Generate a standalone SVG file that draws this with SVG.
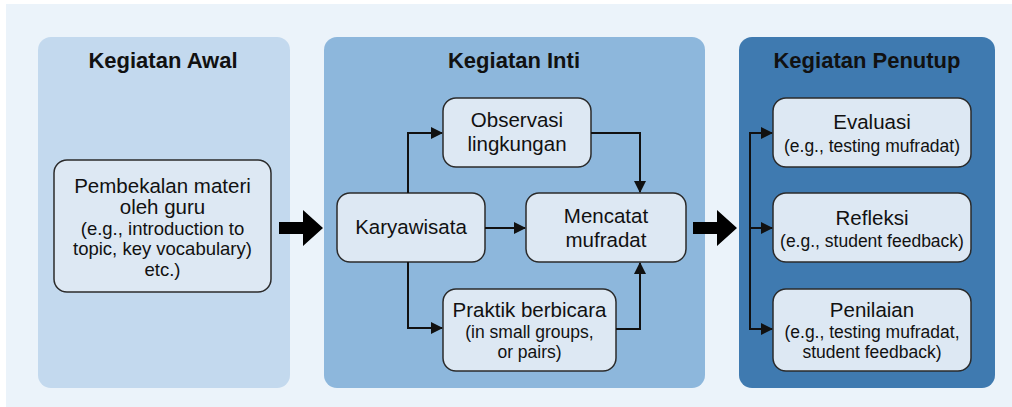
<svg xmlns="http://www.w3.org/2000/svg" width="1012" height="407" viewBox="0 0 1012 407">
<style>
.panel{stroke:none}
.node rect{fill:#dde8f3;stroke:#2b2b2b;stroke-width:1.5}
text{font-family:"Liberation Sans",Arial,sans-serif;fill:#111;text-anchor:middle}
.title{font-weight:bold;font-size:22px}
.main{font-size:20.5px}
.sub{font-size:17.5px}
.conn{fill:none;stroke:#111;stroke-width:2}
.big{fill:#000}
</style>
<defs>
<marker id="ah" markerWidth="12" markerHeight="12" refX="11" refY="6" orient="auto" markerUnits="userSpaceOnUse">
<path d="M0,0 L12,6 L0,12 z" fill="#111"/>
</marker>
</defs>
<rect x="0" y="0" width="1012" height="407" fill="#ffffff"/>
<rect x="6" y="4" width="1006" height="403" fill="#ebf3fa"/>
<g id="panel-awal">
<rect class="panel" x="38" y="37" width="252" height="351" rx="13" fill="#c3d9ee"/>
<text class="title" x="163" y="68">Kegiatan Awal</text>
</g>
<g id="panel-inti">
<rect class="panel" x="324" y="37" width="381" height="351" rx="13" fill="#8db7dc"/>
<text class="title" x="514" y="68">Kegiatan Inti</text>
</g>
<g id="panel-penutup">
<rect class="panel" x="739" y="37" width="256" height="351" rx="13" fill="#3f7ab0"/>
<text class="title" x="867" y="68">Kegiatan Penutup</text>
</g>
<g id="node-pembekalan" class="node">
<rect x="54" y="160" width="217" height="132" rx="13"/>
<text class="main" x="162.5" y="193">Pembekalan materi</text>
<text class="main" x="162.5" y="214">oleh guru</text>
<text class="sub" x="162.5" y="235" style="font-size:18.5px">(e.g., introduction to</text>
<text class="sub" x="162.5" y="255" style="font-size:18.5px">topic, key vocabulary)</text>
<text class="sub" x="162.5" y="276" style="font-size:18.5px">etc.)</text>
</g>
<g id="node-karyawisata" class="node">
<rect x="337" y="193" width="148" height="69" rx="13"/>
<text class="main" x="411" y="234">Karyawisata</text>
</g>
<g id="node-observasi" class="node">
<rect x="443" y="98" width="148" height="69" rx="13"/>
<text class="main" x="517" y="127">Observasi</text>
<text class="main" x="517" y="151">lingkungan</text>
</g>
<g id="node-mencatat" class="node">
<rect x="526" y="193" width="160" height="69" rx="13"/>
<text class="main" x="606" y="223">Mencatat</text>
<text class="main" x="606" y="247">mufradat</text>
</g>
<g id="node-praktik" class="node">
<rect x="443" y="289" width="173" height="82" rx="13"/>
<text class="main" x="529.5" y="317">Praktik berbicara</text>
<text class="sub" x="529.5" y="338">(in small groups,</text>
<text class="sub" x="529.5" y="358">or pairs)</text>
</g>
<g id="node-evaluasi" class="node">
<rect x="773" y="98" width="198" height="69" rx="13"/>
<text class="main" x="872" y="129">Evaluasi</text>
<text class="sub" x="872" y="152">(e.g., testing mufradat)</text>
</g>
<g id="node-refleksi" class="node">
<rect x="773" y="193" width="198" height="69" rx="13"/>
<text class="main" x="872" y="225">Refleksi</text>
<text class="sub" x="872" y="247">(e.g., student feedback)</text>
</g>
<g id="node-penilaian" class="node">
<rect x="773" y="289" width="198" height="82" rx="13"/>
<text class="main" x="872" y="317">Penilaian</text>
<text class="sub" x="872" y="338">(e.g., testing mufradat,</text>
<text class="sub" x="872" y="358">student feedback)</text>
</g>
<g id="connectors">
<polygon class="big" points="279,222 303,222 303,210 323,228 303,246 303,234 279,234"/>
<polygon class="big" points="693,222 717,222 717,210 737,228 717,246 717,234 693,234"/>
<path class="conn" d="M408,193 V133 H442" marker-end="url(#ah)"/>
<path class="conn" d="M408,262 V328 H442" marker-end="url(#ah)"/>
<path class="conn" d="M485,228 H525" marker-end="url(#ah)"/>
<path class="conn" d="M591,133 H640 V192" marker-end="url(#ah)"/>
<path class="conn" d="M616,329 H640 V263" marker-end="url(#ah)"/>
<path class="conn" d="M750,133 V329"/>
<path class="conn" d="M749,133 H772" marker-end="url(#ah)"/>
<path class="conn" d="M749,228 H772" marker-end="url(#ah)"/>
<path class="conn" d="M749,329 H772" marker-end="url(#ah)"/>
</g>
</svg>
